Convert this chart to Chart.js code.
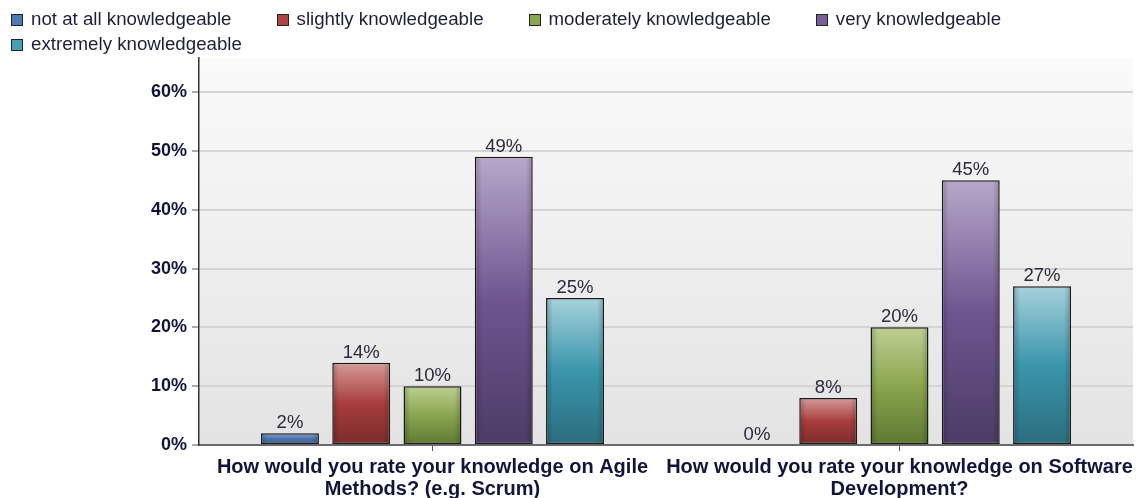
<!DOCTYPE html>
<html>
<head>
<meta charset="utf-8">
<script src="https://cdn.jsdelivr.net/npm/chart.js@4/dist/chart.umd.min.js"></script>
<style>
  body { margin: 0; background: #fff; }
  #wrap { position: relative; width: 1143px; height: 498px; overflow: hidden; }
  #chart { position: absolute; left: 0; top: 0; }
  #legend { position: absolute; left: 11px; top: 6px; width: 1125px; display: flex; flex-wrap: wrap; column-gap: 45px;
            font: 18.7px "Liberation Sans", Arial, sans-serif; color: #1e1e3a; }
  .item { white-space: nowrap; height: 25px; line-height: 25px; }
  .item .box { display: inline-block; width: 10px; height: 10px; border: 1.5px solid #222; margin-right: 8px; vertical-align: -1px; }
</style>
</head>
<body>
<div id="wrap">
  <canvas id="chart" width="1143" height="498"></canvas>
  <div id="legend"></div>
</div>
<script>
// Survey answers, in percent
const categories = [
    ['How would you rate your knowledge on Agile', 'Methods? (e.g. Scrum)'],
    ['How would you rate your knowledge on Software', 'Development?']
];
const seriesNames = ['not at all knowledgeable', 'slightly knowledgeable', 'moderately knowledgeable', 'very knowledgeable', 'extremely knowledgeable'];
const notAtAll = [2, 0];
const slightly = [14, 8];
const moderately = [10, 20];
const very = [49, 45];
const extremely = [25, 27];
const yTicks = [0, 10, 20, 30, 40, 50, 60];

// bar shading: top, middle, bottom, legend swatch
const palette = [
    ['#86a3cc', '#4a72a8', '#355a8a', '#4f7ab0'],
    ['#d69a9a', '#a83d3d', '#7a2b2b', '#b04545'],
    ['#bccf92', '#8aa54e', '#5e7831', '#8aa650'],
    ['#b8a7ca', '#6e5590', '#4d3b66', '#7a5f9c'],
    ['#a6d1dc', '#3a95ab', '#2b6d7e', '#45a0b5']
];

const seriesValues = [notAtAll, slightly, moderately, very, extremely];

function barFill(i) {
    return function(ctx) {
        const chart = ctx.chart;
        const c = palette[i];
        if (!chart.chartArea || ctx.type !== 'data') return c[1];
        const y = chart.scales.y;
        const top = y.getPixelForValue(ctx.raw);
        const base = y.getPixelForValue(0);
        if (base - top < 1) return c[1];
        const g = chart.ctx.createLinearGradient(0, top, 0, base);
        g.addColorStop(0, c[0]);
        g.addColorStop(0.5, c[1]);
        g.addColorStop(1, c[2]);
        return g;
    };
}

// legend, flowing left to right
const legendEl = document.getElementById('legend');
seriesNames.forEach((name, i) => {
    const el = document.createElement('div');
    el.className = 'item';
    el.innerHTML = '<span class="box" style="background:' + palette[i][3] + '"></span>' + name;
    legendEl.appendChild(el);
});

const plotBackground = {
    id: 'plotBackground',
    beforeDraw(chart) {
        const { ctx, chartArea: a } = chart;
        const g = ctx.createLinearGradient(0, a.top, 0, a.bottom);
        g.addColorStop(0, '#fafafa');
        g.addColorStop(1, '#e3e3e3');
        ctx.save();
        ctx.fillStyle = g;
        ctx.fillRect(a.left, a.top, a.right - a.left, a.bottom - a.top);
        ctx.restore();
    }
};

// darker side edges and value labels on top of each bar
const barExtras = {
    id: 'barExtras',
    afterDatasetsDraw(chart) {
        const ctx = chart.ctx;
        ctx.save();
        chart.data.datasets.forEach((ds, i) => {
            const meta = chart.getDatasetMeta(i);
            meta.data.forEach((bar, j) => {
                const { x, y, base, width } = bar.getProps(['x', 'y', 'base', 'width'], true);
                const left = x - width / 2;
                if (base - y > 2) {
                    const g = ctx.createLinearGradient(left, 0, left + width, 0);
                    g.addColorStop(0, 'rgba(0,0,0,0.22)');
                    g.addColorStop(0.12, 'rgba(0,0,0,0)');
                    g.addColorStop(0.88, 'rgba(0,0,0,0)');
                    g.addColorStop(1, 'rgba(0,0,0,0.22)');
                    ctx.fillStyle = g;
                    ctx.fillRect(left + 1.5, y + 1.5, width - 3, base - y - 3);
                }
                ctx.fillStyle = '#2a2a3a';
                ctx.font = '18.5px "Liberation Sans", Arial, sans-serif';
                ctx.textAlign = 'center';
                ctx.textBaseline = 'bottom';
                ctx.fillText(ds.data[j] + '%', x, y - 1);
            });
        });
        ctx.restore();
    }
};

new Chart(document.getElementById('chart'), {
    type: 'bar',
    data: {
        labels: categories,
        datasets: seriesNames.map((name, i) => ({
            label: name,
            data: seriesValues[i],
            backgroundColor: barFill(i),
            borderColor: '#1a1a1a',
            borderWidth: 1.5,
            borderSkipped: false,
            categoryPercentage: 0.763,
            barPercentage: 0.813
        }))
    },
    options: {
        responsive: false,
        animation: false,
        devicePixelRatio: 1,
        layout: { padding: { top: 58, right: 10, left: 0, bottom: 0 } },
        plugins: {
            legend: { display: false },
            tooltip: { enabled: false }
        },
        scales: {
            x: {
                grid: { offset: false, drawOnChartArea: false, drawTicks: true, tickLength: 6, tickColor: '#555' },
                border: { color: '#6a6a6a', width: 2 },
                ticks: {
                    color: '#14143a',
                    font: { family: '"Liberation Sans", Arial, sans-serif', size: 20, weight: 'bold', lineHeight: 1.1 },
                    padding: 5,
                    maxRotation: 0,
                    autoSkip: false
                },
                afterFit(scale) { scale.height = 53; }
            },
            y: {
                min: 0,
                max: 65.8,
                afterBuildTicks(scale) { scale.ticks = yTicks.map(v => ({ value: v })); },
                grid: { color: '#d4d4d4', lineWidth: 2, tickLength: 7, tickColor: '#555', tickWidth: 1 },
                border: { color: '#333', width: 1.5 },
                ticks: {
                    color: '#14143a',
                    font: { family: '"Liberation Sans", Arial, sans-serif', size: 18, weight: 'bold' },
                    padding: 5,
                    callback: v => v + '%'
                },
                afterFit(scale) { scale.width = 199; }
            }
        }
    },
    plugins: [plotBackground, barExtras]
});
</script>
</body>
</html>
